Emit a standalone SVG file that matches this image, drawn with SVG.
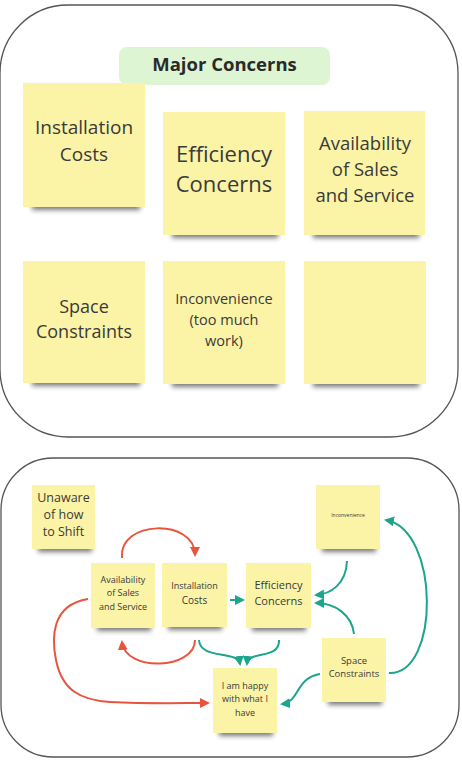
<svg xmlns="http://www.w3.org/2000/svg" width="462" height="764" viewBox="0 0 462 764">
<defs>
<filter id="blur" x="-20%" y="-100%" width="140%" height="300%"><feGaussianBlur stdDeviation="2.5"/></filter>
<marker id="ar" viewBox="0 0 10 10" refX="8" refY="5" markerWidth="5" markerHeight="5" orient="auto-start-reverse"><path d="M0,0 L10,5 L0,10 z" fill="#e8553e"/></marker>
<marker id="at" viewBox="0 0 10 10" refX="8" refY="5" markerWidth="5" markerHeight="5" orient="auto-start-reverse"><path d="M0,0 L10,5 L0,10 z" fill="#1aa58c"/></marker>
</defs>
<style>
.panel{fill:#fff;stroke:#555;stroke-width:1.3}
.note{fill:#fbf4a6}
.sh{fill:#222;opacity:0.6;filter:url(#blur)}
text{font-family:"Open Sans","Noto Sans",sans-serif;fill:#3a3a3a;text-anchor:middle}
.red{fill:none;stroke:#e8553e;stroke-width:2;marker-end:url(#ar)}
.teal{fill:none;stroke:#1aa58c;stroke-width:2;marker-end:url(#at)}
</style>
<rect width="462" height="764" fill="#fff"/>

<rect class="panel" x="0" y="5" width="458" height="432" rx="68" ry="68"/>
<rect class="panel" x="1" y="458" width="458" height="299" rx="52" ry="52"/>

<g id="title">
<rect x="119" y="47" width="211" height="38" rx="8" fill="#ddf5d3"/>
<text x="224.5" y="71" font-size="18.5" font-weight="bold" style="fill:#2a2a2a">Major Concerns</text>
</g>

<g id="t-installation">
<rect class="sh" x="32" y="198" width="108" height="12"/>
<rect class="note" x="23" y="83" width="122" height="124"/>
<text x="84" y="134" font-size="19">Installation</text>
<text x="84" y="161" font-size="19">Costs</text>
</g>
<g id="t-efficiency">
<rect class="sh" x="172" y="226" width="106" height="12"/>
<rect class="note" x="163" y="112" width="122" height="123"/>
<text x="224" y="162" font-size="22">Efficiency</text>
<text x="224" y="192" font-size="22">Concerns</text>
</g>
<g id="t-availability">
<rect class="sh" x="313" y="226" width="106" height="12"/>
<rect class="note" x="304" y="111" width="121" height="124"/>
<text x="365" y="150" font-size="18.5">Availability</text>
<text x="365" y="176" font-size="18.5">of Sales</text>
<text x="365" y="202" font-size="18.5">and Service</text>
</g>
<g id="t-space">
<rect class="sh" x="32" y="374" width="108" height="12"/>
<rect class="note" x="23" y="261" width="122" height="122"/>
<text x="84" y="313" font-size="18">Space</text>
<text x="84" y="338" font-size="18">Constraints</text>
</g>
<g id="t-inconvenience">
<rect class="sh" x="172" y="375" width="106" height="12"/>
<rect class="note" x="163" y="261" width="122" height="123"/>
<text x="224" y="304" font-size="14.5">Inconvenience</text>
<text x="224" y="325" font-size="14.5">(too much</text>
<text x="224" y="346" font-size="14.5">work)</text>
</g>
<g id="t-empty">
<rect class="sh" x="313" y="375" width="106" height="12"/>
<rect class="note" x="304" y="261" width="122" height="123"/>
</g>

<g id="connectors">
<path class="red" d="M122,558 C118,520 195,518 195,555"/>
<path class="red" d="M195,640 C195,670 125,672 122,642"/>
<path class="red" d="M88,599 C50,605 52,640 56,660 C62,690 80,700 110,702 C150,704 180,703 208,703"/>
<path class="teal" d="M230,600 L243,600"/>
<path class="teal" d="M199,640 C200,660 238,650 240,664"/>
<path class="teal" d="M279,640 C280,660 248,650 247,664"/>
<path class="teal" d="M347,561 C346,585 330,594 316,595"/>
<path class="teal" d="M354,634 C352,615 335,603 316,603"/>
<path class="teal" d="M389,673 C440,675 440,530 386,520"/>
<path class="teal" d="M320,674 C295,678 300,702 282,704"/>
</g>

<g id="b-unaware">
<rect class="sh" x="38" y="542" width="54" height="10"/>
<rect class="note" x="32" y="485" width="63" height="64"/>
<text x="63.5" y="502" font-size="12.5">Unaware</text>
<text x="63.5" y="519" font-size="12.5">of how</text>
<text x="63.5" y="536" font-size="12.5">to Shift</text>
</g>
<g id="b-availability">
<rect class="sh" x="97" y="621" width="54" height="10"/>
<rect class="note" x="91" y="563" width="64" height="65"/>
<text x="123" y="583" font-size="9">Availability</text>
<text x="123" y="596" font-size="9">of Sales</text>
<text x="123" y="610" font-size="9">and Service</text>
</g>
<g id="b-installation">
<rect class="sh" x="168" y="620" width="54" height="10"/>
<rect class="note" x="162" y="563" width="65" height="64"/>
<text x="194.5" y="589" font-size="9">Installation</text>
<text x="194.5" y="604" font-size="10">Costs</text>
</g>
<g id="b-efficiency">
<rect class="sh" x="252" y="621" width="54" height="10"/>
<rect class="note" x="246" y="563" width="65" height="65"/>
<text x="278.5" y="589" font-size="11">Efficiency</text>
<text x="278.5" y="605" font-size="11">Concerns</text>
</g>
<g id="b-inconvenience">
<rect class="sh" x="322" y="542" width="54" height="10"/>
<rect class="note" x="316" y="485" width="64" height="64"/>
<text x="348" y="517" font-size="5">Inconvenience</text>
</g>
<g id="b-space">
<rect class="sh" x="328" y="695" width="54" height="10"/>
<rect class="note" x="322" y="638" width="64" height="64"/>
<text x="354" y="664" font-size="9.5">Space</text>
<text x="354" y="677" font-size="9.5">Constraints</text>
</g>
<g id="b-happy">
<rect class="sh" x="219" y="726" width="54" height="10"/>
<rect class="note" x="213" y="668" width="64" height="65"/>
<text x="245" y="689" font-size="9">I am happy</text>
<text x="245" y="702" font-size="9">with what I</text>
<text x="245" y="716" font-size="9">have</text>
</g>
</svg>
